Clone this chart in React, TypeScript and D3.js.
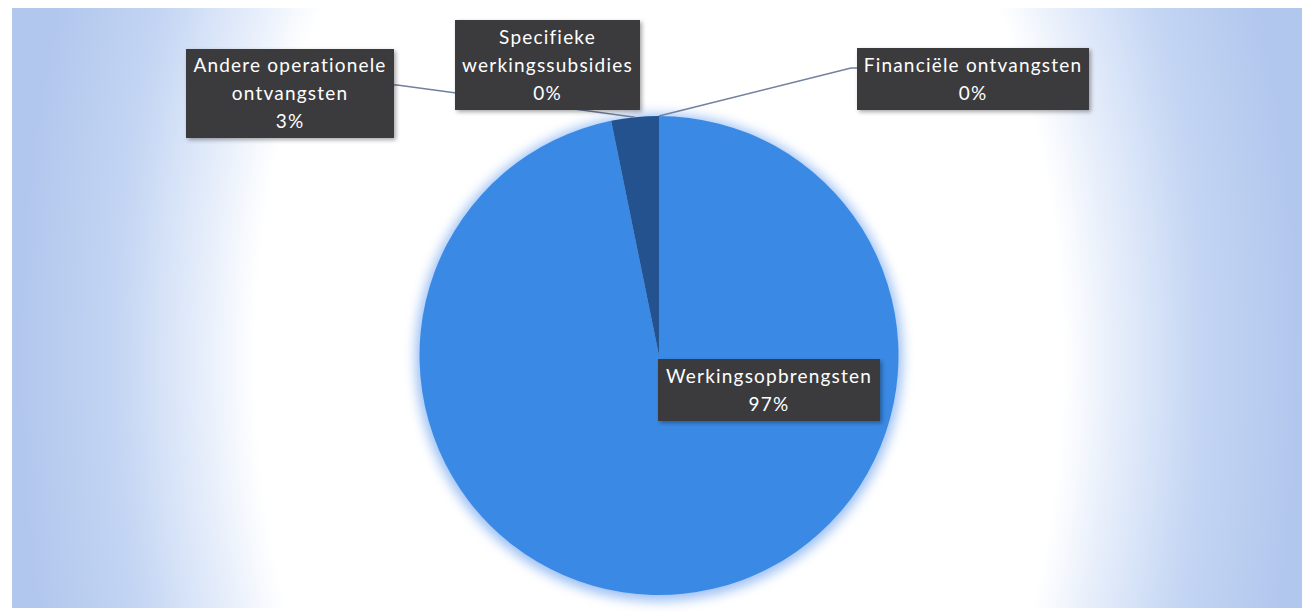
import React from "react";
import * as d3 from "d3";

const categories = [
  "Werkingsopbrengsten",
  "Andere operationele ontvangsten",
  "Specifieke werkingssubsidies",
  "Financiële ontvangsten",
];
const values = [96.8, 3.2, 0, 0];
const percentLabels = ["97%", "3%", "0%", "0%"];
const labelLines = [
  ["Werkingsopbrengsten"],
  ["Andere operationele", "ontvangsten"],
  ["Specifieke", "werkingssubsidies"],
  ["Financiële ontvangsten"],
];
const sliceColors = ["#3a8ae5", "#24528f", "#2a5da0", "#2a5da0"];

const W = 1302;
const H = 612;
const CX = 659;
const CY = 355.5;
const R = 239.5;

// label box geometry (layout, not data)
const boxes = [
  { x: 658, y: 359, w: 222, h: 62, leader: false },
  { x: 186, y: 49, w: 208, h: 89, leader: true },
  { x: 455, y: 20, w: 185, h: 90, leader: false },
  { x: 857, y: 48, w: 232, h: 62, leader: true },
];

export default function App() {
  const pie = d3
    .pie<number>()
    .sort(null)
    .startAngle(0)
    .endAngle(2 * Math.PI)(values);
  const arc = d3.arc<d3.PieArcDatum<number>>().innerRadius(0).outerRadius(R);
  const edge = d3.arc<d3.PieArcDatum<number>>().innerRadius(R).outerRadius(R);
  const lineH = 28;
  const font = "Lato, 'Open Sans', sans-serif";

  return (
    <svg width={W} height={H} style={{ position: "absolute", left: 0, top: 0 }}>
      <defs>
        <radialGradient
          id="bg"
          gradientUnits="userSpaceOnUse"
          cx={CX}
          cy={360}
          r={640}
          gradientTransform={`translate(${CX},360) scale(1,1.6) translate(${-CX},-360)`}
        >
          <stop offset="0" stopColor="#ffffff" />
          <stop offset="0.63" stopColor="#ffffff" />
          <stop offset="0.73" stopColor="#e2ebfa" />
          <stop offset="0.85" stopColor="#c3d5f3" />
          <stop offset="1" stopColor="#b2c7ee" />
        </radialGradient>
        <filter id="glow" x="-20%" y="-20%" width="140%" height="140%">
          <feGaussianBlur stdDeviation="6" />
        </filter>
        <filter id="shadow" x="-10%" y="-20%" width="130%" height="150%">
          <feDropShadow dx="2" dy="2" stdDeviation="2" floodColor="#000" floodOpacity="0.35" />
        </filter>
      </defs>
      <rect x={0} y={0} width={W} height={H} fill="#ffffff" />
      <rect x={12} y={8} width={W - 12} height={H - 12} fill="url(#bg)" />
      <circle cx={CX} cy={CY + 2} r={R + 4} fill="#7aaaf0" opacity={0.75} filter="url(#glow)" />
      <g transform={`translate(${CX},${CY})`}>
        {pie.map((d, i) =>
          d.endAngle - d.startAngle > 0 ? (
            <path key={i} d={arc(d) || ""} fill={sliceColors[i]} />
          ) : null
        )}
      </g>
      {pie.map((d, i) => {
        const b = boxes[i];
        if (!b.leader) return null;
        const [ex, ey] = edge.centroid(d);
        const tx = CX + ex;
        const ty = CY + ey;
        const sx = i === 1 ? b.x + b.w : b.x;
        const sy = i === 1 ? b.y + 36 : b.y + 20;
        const midX = i === 1 ? sx + 3 : sx - 6;
        return (
          <polyline
            key={"l" + i}
            points={`${sx},${sy} ${midX},${sy} ${tx},${ty}`}
            fill="none"
            stroke="#6f7f9e"
            strokeWidth={1.5}
          />
        );
      })}
      {categories.map((c, i) => {
        const b = boxes[i];
        const lines = [...labelLines[i], percentLabels[i]];
        const total = lines.length * lineH;
        const y0 = b.y + (b.h - total) / 2 + lineH / 2;
        return (
          <g key={"b" + i}>
            <rect x={b.x} y={b.y} width={b.w} height={b.h} fill="#3b3b3d" filter="url(#shadow)" />
            <text
              x={b.x + b.w / 2}
              textAnchor="middle"
              fill="#ffffff"
              fontFamily={font}
              fontSize={19}
              letterSpacing={1.2}
              style={{ fontVariantLigatures: "none" }}
            >
              {lines.map((t, k) => (
                <tspan key={k} x={b.x + b.w / 2} y={y0 + k * lineH} dy="0.35em">
                  {t}
                </tspan>
              ))}
            </text>
          </g>
        );
      })}
    </svg>
  );
}
